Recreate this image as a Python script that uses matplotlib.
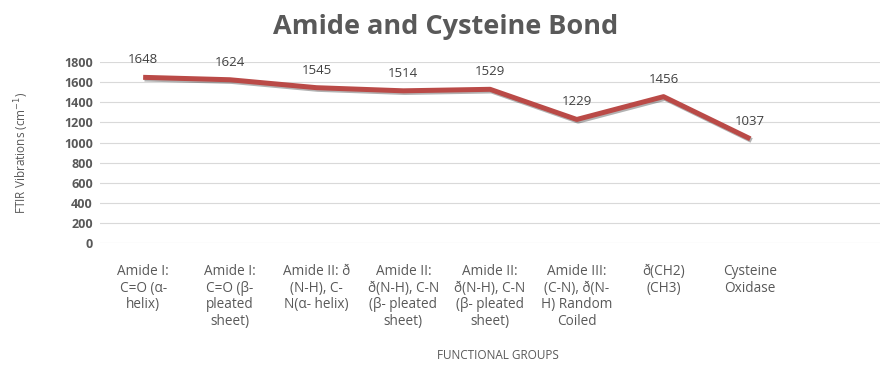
import numpy as np
import matplotlib.pyplot as plt
import matplotlib.patheffects as pe

plt.rcParams['font.family'] = ['Open Sans', 'DejaVu Sans']

# categories and values
groups = [
    "Amide I:\nC=O (α-\nhelix)",
    "Amide I:\nC=O (β-\npleated\nsheet)",
    "Amide II: ð\n(N-H), C-\nN(α- helix)",
    "Amide II:\nð(N-H), C-N\n(β- pleated\nsheet)",
    "Amide II:\nð(N-H), C-N\n(β- pleated\nsheet)",
    "Amide III:\n(C-N), ð(N-\nH) Random\nCoiled",
    "ð(CH2)\n(CH3)",
    "Cysteine\nOxidase",
    "",
]
vibrations = [1648, 1624, 1545, 1514, 1529, 1229, 1456, 1037]
yticks = [0, 200, 400, 600, 800, 1000, 1200, 1400, 1600, 1800]

txt = '#595959'
line_col = '#BA4A47'

fig = plt.figure(figsize=(8.83, 3.65), dpi=100)
ax = fig.add_axes([0.113, 0.334, 0.884, 0.496])

x = np.arange(len(vibrations))
ax.plot(x, vibrations, color=line_col, lw=3.6, solid_capstyle='butt',
        path_effects=[pe.SimpleLineShadow(offset=(1, -1.2), alpha=0.3), pe.Normal()])

for xi, v in zip(x, vibrations):
    ax.annotate(str(v), (xi, v), xytext=(0, 8), textcoords='offset points',
                ha='center', va='bottom', fontsize=9.5, color='#404040',
                annotation_clip=False)

ax.set_xlim(-0.5, len(groups) - 0.5)
ax.set_ylim(0, 1800)
ax.set_yticks(yticks)
ax.set_yticklabels([str(t) for t in yticks], fontsize=9, color=txt, fontweight='bold')
ax.set_xticks(np.arange(len(groups)))
ax.set_xticklabels(groups, fontsize=9.8, color=txt, linespacing=1.15, va='top')
ax.tick_params(axis='both', length=0)
ax.tick_params(axis='x', pad=15)
ax.tick_params(axis='y', pad=5)

ax.grid(axis='y', color='#D9D9D9', lw=0.8)
ax.set_axisbelow(True)
for s in ax.spines.values():
    s.set_visible(False)

ax.set_ylabel("FTIR Vibrations (cm$^{-1}$)", fontsize=8.5, color=txt, labelpad=24)

fig.text(0.564, 0.027, "FUNCTIONAL GROUPS", ha='center', va='center',
         fontsize=8.5, color=txt)
fig.text(0.505, 0.925, "Amide and Cysteine Bond", ha='center', va='center',
         fontsize=19.5, fontweight='bold', color=txt)

fig.savefig("out.png", dpi=100)
